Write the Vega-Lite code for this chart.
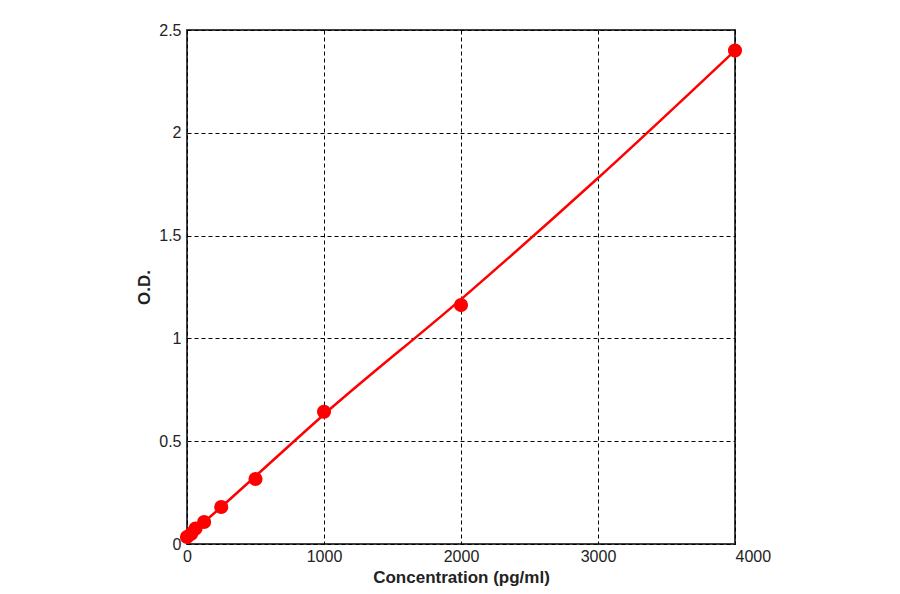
{
  "$schema": "https://vega.github.io/schema/vega-lite/v6.json",
  "width": 548,
  "height": 514,
  "autosize": "none",
  "padding": {"left": 187, "top": 30, "right": 165, "bottom": 50},
  "background": "white",
  "description": "ELISA standard curve",
  "datasets": {
    "standards": [
      {"conc": 0, "od": 0.034},
      {"conc": 31.25, "od": 0.05},
      {"conc": 62.5, "od": 0.075},
      {"conc": 125, "od": 0.107},
      {"conc": 250, "od": 0.18},
      {"conc": 500, "od": 0.316},
      {"conc": 1000, "od": 0.643},
      {"conc": 2000, "od": 1.162},
      {"conc": 4000, "od": 2.4}
    ],
    "fit": [
      {"conc": 0, "od": 0.035},
      {"conc": 250, "od": 0.18},
      {"conc": 500, "od": 0.33},
      {"conc": 1000, "od": 0.63},
      {"conc": 2000, "od": 1.19},
      {"conc": 3000, "od": 1.78},
      {"conc": 4000, "od": 2.4}
    ]
  },
  "config": {
    "view": {"stroke": "#404040", "strokeWidth": 2},
    "axis": {
      "domain": false,
      "ticks": false,
      "gridColor": "black",
      "gridDash": [4, 3],
      "gridWidth": 1,
      "gridOpacity": 1,
      "labelFont": "Liberation Sans",
      "labelFontSize": 16,
      "labelColor": "#222222",
      "titleFont": "Liberation Sans",
      "titleFontSize": 17,
      "titleFontWeight": "bold",
      "titleColor": "#222222"
    }
  },
  "encoding": {
    "x": {
      "field": "conc",
      "type": "quantitative",
      "title": "Concentration (pg/ml)",
      "scale": {"domain": [0, 4000], "nice": false, "zero": true},
      "axis": {
        "values": [0, 1000, 2000, 3000, 4000],
        "format": "d",
        "labelFlush": false,
        "labelPadding": 4,
        "titlePadding": 5,
        "labelAlign": {"condition": {"test": "datum.value === 4000", "value": "left"}, "value": "center"}
      }
    },
    "y": {
      "field": "od",
      "type": "quantitative",
      "title": "O.D.",
      "scale": {"domain": [0, 2.5], "nice": false},
      "axis": {
        "values": [0, 0.5, 1, 1.5, 2, 2.5],
        "format": "~g",
        "labelPadding": 6,
        "titlePadding": 5
      }
    }
  },
  "layer": [
    {
      "data": {"name": "fit"},
      "mark": {"type": "line", "color": "#ff0000", "strokeWidth": 2.5, "interpolate": "monotone"}
    },
    {
      "data": {"name": "standards"},
      "mark": {"type": "point", "filled": true, "color": "#ff0000", "opacity": 1, "size": 200}
    }
  ]
}
